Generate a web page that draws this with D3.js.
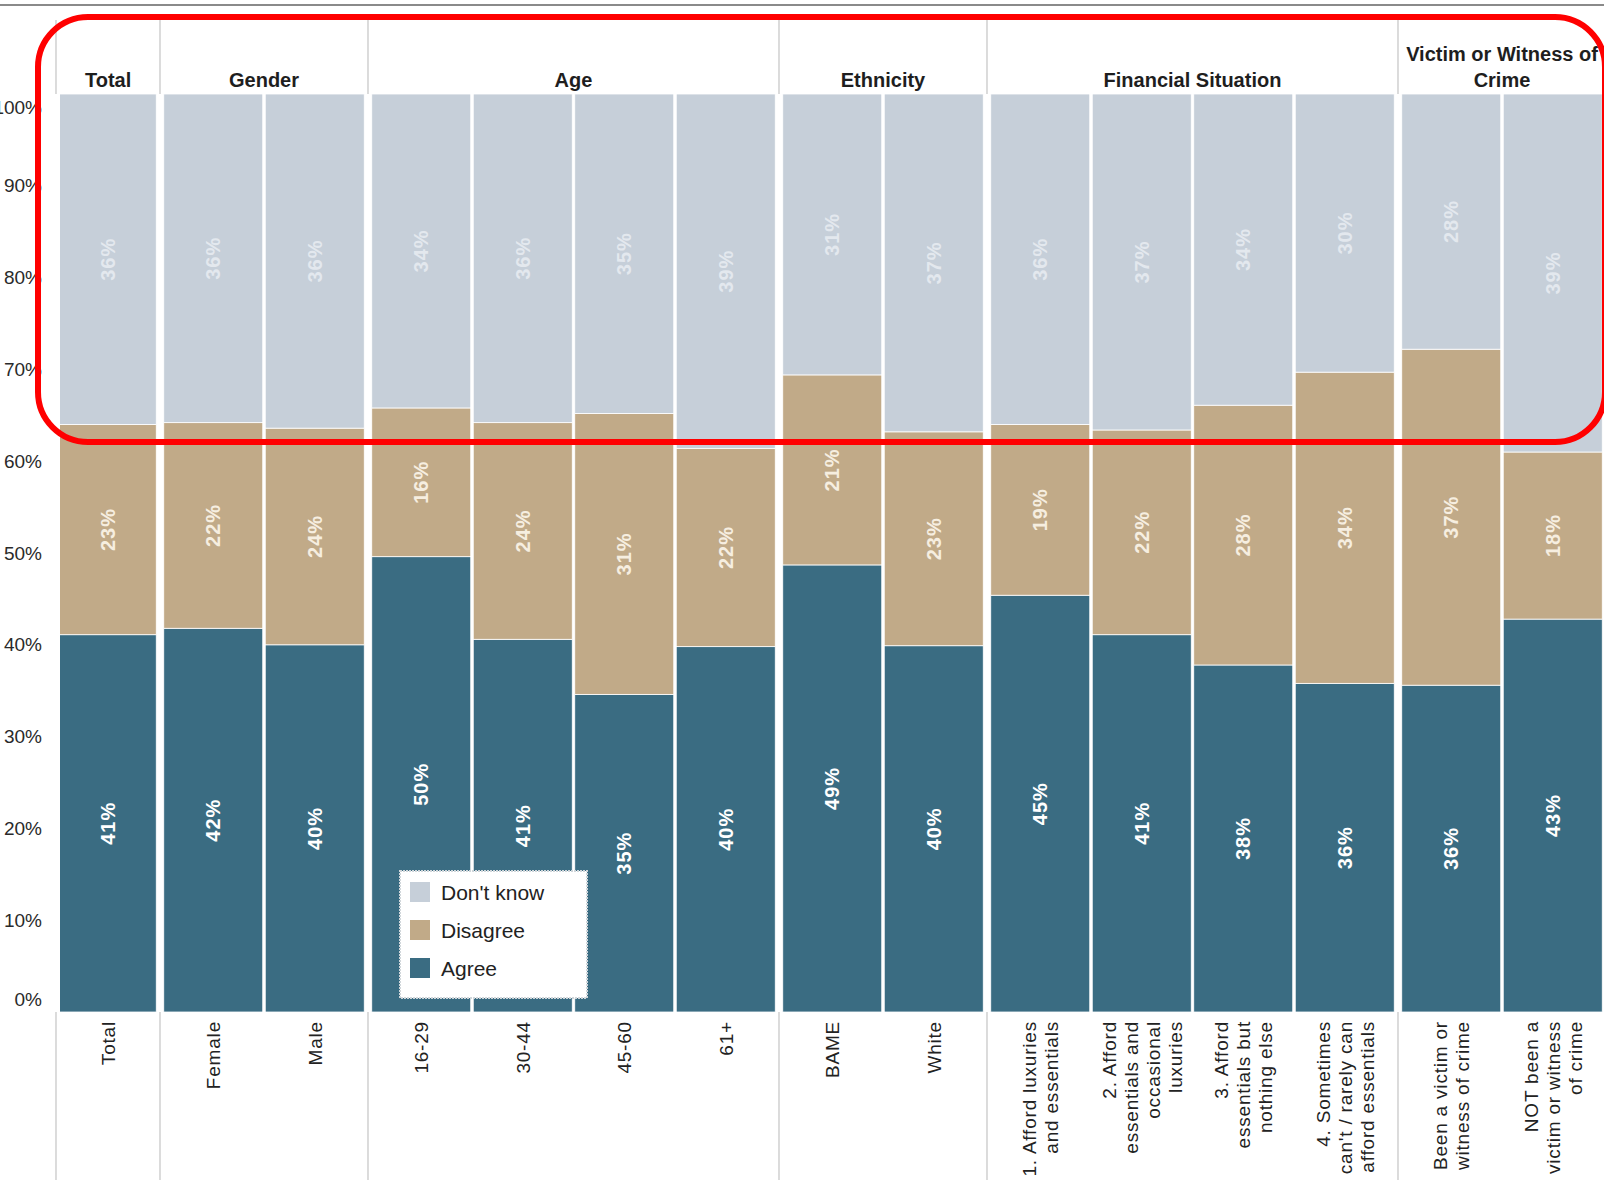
<!DOCTYPE html>
<html>
<head>
<meta charset="utf-8">
<script src="https://cdn.jsdelivr.net/npm/d3@7/dist/d3.min.js"></script>
<style>
  html, body { margin: 0; padding: 0; background: #fff; }
  svg { display: block; font-family: "Liberation Sans", Arial, sans-serif; }
</style>
</head>
<body>
<svg id="chart" width="1604" height="1188"></svg>
<script>
// ---------------- DATA ----------------
const categories = ["Total", "Female", "Male", "16-29", "30-44", "45-60", "61+", "BAME", "White",
  "1. Afford luxuries and essentials", "2. Afford essentials and occasional luxuries",
  "3. Afford essentials but nothing else", "4. Sometimes can't / rarely can afford essentials",
  "Been a victim or witness of crime", "NOT been a victim or witness of crime"];

const categoryLines = [["Total"], ["Female"], ["Male"], ["16-29"], ["30-44"], ["45-60"], ["61+"], ["BAME"], ["White"],
  ["1. Afford luxuries", "and essentials"],
  ["2. Afford", "essentials and", "occasional", "luxuries"],
  ["3. Afford", "essentials but", "nothing else"],
  ["4. Sometimes", "can't / rarely can", "afford essentials"],
  ["Been a victim or", "witness of crime"],
  ["NOT been a", "victim or witness", "of crime"]];

const categoryGroup = ["Total", "Gender", "Gender", "Age", "Age", "Age", "Age", "Ethnicity", "Ethnicity",
  "Financial Situation", "Financial Situation", "Financial Situation", "Financial Situation",
  "Victim or Witness of Crime", "Victim or Witness of Crime"];

const groupTitleLines = {
  "Total": ["Total"],
  "Gender": ["Gender"],
  "Age": ["Age"],
  "Ethnicity": ["Ethnicity"],
  "Financial Situation": ["Financial Situation"],
  "Victim or Witness of Crime": ["Victim or Witness of", "Crime"]
};

const agree    = [41.1, 41.8, 40.0, 49.6, 40.6, 34.6, 39.8, 48.7, 39.9, 45.4, 41.1, 37.8, 35.8, 35.6, 42.8];
const disagree = [22.9, 22.4, 23.6, 16.2, 23.6, 30.6, 21.6, 20.7, 23.3, 18.6, 22.3, 28.3, 33.9, 36.6, 18.2];
const dontKnow = [36.0, 35.8, 36.4, 34.2, 35.8, 34.8, 38.6, 30.6, 36.8, 36.0, 36.6, 33.9, 30.3, 27.8, 39.0];

const seriesKeys  = ["agree", "disagree", "dontKnow"];
const seriesNames = { agree: "Agree", disagree: "Disagree", dontKnow: "Don't know" };
const legendOrder = ["dontKnow", "disagree", "agree"];
const yTicks = [0, 10, 20, 30, 40, 50, 60, 70, 80, 90, 100];

// ---------------- STYLE ----------------
const colors     = { agree: "#3a6c82", disagree: "#c1aa88", dontKnow: "#c6cfd9" };
const textColors = { agree: "#ffffff", disagree: "#f6eee0", dontKnow: "#e3e8ee" };

const svg = d3.select("#chart");
const W = 1604;

const rows = categories.map((c, i) => ({
  cat: c, agree: agree[i], disagree: disagree[i], dontKnow: dontKnow[i],
  group: categoryGroup[i], lines: categoryLines[i]
}));

const groups = Array.from(new Set(categoryGroup));
const groupGap = 5;
const step = 101.5;

const xBand = d3.scaleBand()
  .domain(categories)
  .range([56, 56 + step * categories.length])
  .paddingInner(0.0246)
  .paddingOuter(0.0123);

const gIdx = d => groups.indexOf(categoryGroup[categories.indexOf(d)]);
const xPos = d => xBand(d) + gIdx(d) * groupGap;
const bw = xBand.bandwidth();

const y = d3.scaleLinear().domain([0, 100]).range([1012, 94]);

svg.append("defs").append("clipPath").attr("id", "plotclip")
  .append("rect").attr("x", 60).attr("y", 0).attr("width", W).attr("height", 1188);

// top gray rule
svg.append("line").attr("x1", 0).attr("x2", W).attr("y1", 5).attr("y2", 5)
  .attr("stroke", "#8a8a8a").attr("stroke-width", 2);

// stacked bars
const stacked = d3.stack().keys(seriesKeys)(rows);
const layers = svg.append("g").attr("clip-path", "url(#plotclip)")
  .selectAll("g").data(stacked).join("g")
  .attr("fill", d => colors[d.key]);

layers.selectAll("rect").data(d => d).join("rect")
  .attr("x", d => xPos(d.data.cat))
  .attr("width", bw)
  .attr("y", d => y(d[1]))
  .attr("height", d => y(d[0]) - y(d[1]))
  .attr("stroke", "#ffffff")
  .attr("stroke-width", 0.8);

// value labels
stacked.forEach(layer => {
  svg.append("g").selectAll("text").data(layer).join("text")
    .attr("transform", d => `translate(${xPos(d.data.cat) + bw / 2 + (d.data.cat === "Total" ? 1.5 : 0)},${(y(d[0]) + y(d[1])) / 2}) rotate(-90)`)
    .attr("text-anchor", "middle")
    .attr("dominant-baseline", "central")
    .attr("fill", textColors[layer.key])
    .attr("font-size", 20)
    .attr("font-weight", "bold")
    .attr("letter-spacing", 1)
    .text(d => Math.round(d[1] - d[0]) + "%");
});

// group dividers (header + bottom axis area)
const groupStarts = groups.map(g => categories[categoryGroup.indexOf(g)]);
const dividerX = groupStarts.map((c, i) => i === 0 ? 56 : xPos(c) - (xBand.step() - bw) / 2 - groupGap / 2);
svg.append("g").selectAll("line").data(dividerX).join("line")
  .attr("x1", d => d).attr("x2", d => d).attr("y1", 20).attr("y2", 94)
  .attr("stroke", "#c4c4c4").attr("stroke-width", 1.2);
svg.append("g").selectAll("line").data(dividerX).join("line")
  .attr("x1", d => d).attr("x2", d => d).attr("y1", 1012).attr("y2", 1180)
  .attr("stroke", "#c4c4c4").attr("stroke-width", 1.2);

// group headers
groups.forEach(g => {
  const cats = categories.filter((c, i) => categoryGroup[i] === g);
  const x0 = Math.max(60, xPos(cats[0]));
  const x1 = xPos(cats[cats.length - 1]) + bw;
  const lines = groupTitleLines[g];
  const t = svg.append("text")
    .attr("x", (x0 + x1) / 2)
    .attr("text-anchor", "middle")
    .attr("font-size", 20)
    .attr("font-weight", "bold")
    .attr("fill", "#1e1e1e");
  lines.forEach((ln, i) => {
    t.append("tspan")
      .attr("x", (x0 + x1) / 2)
      .attr("y", 87 - (lines.length - 1 - i) * 26)
      .text(ln);
  });
});

// category labels (rotated)
const lh = 22;
rows.forEach(r => {
  const cx = xPos(r.cat) + bw / 2 + (r.cat === "Total" ? 1.5 : 0);
  const n = r.lines.length;
  const t = svg.append("text")
    .attr("transform", `translate(${cx},1021) rotate(-90)`)
    .attr("text-anchor", "end")
    .attr("dominant-baseline", "central")
    .attr("font-size", 19)
    .attr("letter-spacing", 0.8)
    .attr("fill", "#222");
  r.lines.forEach((ln, i) => {
    t.append("tspan").attr("x", 0).attr("y", (i - (n - 1) / 2) * lh).text(ln);
  });
});

// y axis
const yAxis = svg.append("g")
  .attr("transform", "translate(42,0)")
  .call(d3.axisLeft(y).tickValues(yTicks).tickFormat(d => d + "%").tickSize(0).tickPadding(0));
yAxis.select(".domain").remove();
yAxis.selectAll("text")
  .attr("font-size", 19)
  .attr("font-family", "\"Liberation Sans\", Arial, sans-serif")
  .attr("fill", "#2a2a2a")
  .attr("dy", d => d === 100 ? "1.05em" : d === 0 ? "-0.35em" : "0.32em");

// legend
const legend = svg.append("g").attr("transform", "translate(400,871)");
legend.append("rect").attr("width", 187).attr("height", 127)
  .attr("fill", "#ffffff").attr("stroke", "#d0d6da").attr("stroke-width", 2)
  .attr("stroke-dasharray", "2,1");
legendOrder.forEach((k, i) => {
  const gy = 11 + i * 38;
  legend.append("rect").attr("x", 10).attr("y", gy).attr("width", 20).attr("height", 20)
    .attr("fill", colors[k]);
  legend.append("text").attr("x", 41).attr("y", gy + 10)
    .attr("dominant-baseline", "central")
    .attr("font-size", 21).attr("fill", "#222")
    .text(seriesNames[k]);
});

// red annotation frame
svg.append("rect")
  .attr("x", 38).attr("y", 17).attr("width", 1567).attr("height", 425)
  .attr("rx", 50).attr("ry", 50)
  .attr("fill", "none").attr("stroke", "#ff0000").attr("stroke-width", 6);
</script>
</body>
</html>
